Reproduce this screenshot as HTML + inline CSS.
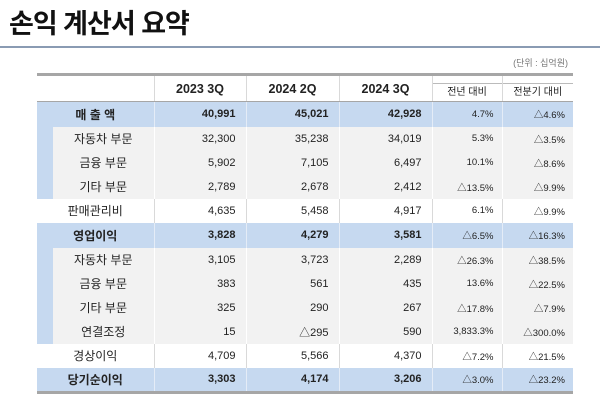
<!DOCTYPE html>
<html><head><meta charset="utf-8"><style>
body{margin:0;width:600px;height:401px;background:#fff;position:relative;overflow:hidden;font-family:"Liberation Sans","Noto Sans CJK KR",sans-serif;color:#222}
#title{position:absolute;left:9px;top:2px;font-size:27px;font-weight:bold;letter-spacing:-1px;color:#111}
#rule{position:absolute;left:0;top:46px;width:600px;height:2px;background:#8a9bb3}
#unit{position:absolute;right:32px;top:56px;font-size:9px;color:#777}
table{position:absolute;left:37px;top:73px;border-collapse:collapse;table-layout:fixed;width:536px}
td,th{padding:0;font-size:11px;border-left:1px solid #d9d9d9}
td:first-child,th:first-child{border-left:none}
thead tr{height:27px}
thead th{border-top:3px solid #a6a6a6;border-bottom:1px solid #a6a6a6;font-size:12.5px;font-weight:bold;text-align:center;vertical-align:middle}
th.sub{font-weight:normal;font-size:10px;vertical-align:bottom;padding:0}
th.sub div{border-top:1px solid #bbb;height:17px;line-height:17px;margin-top:7px}
tbody tr{height:24px}
tbody tr.main{height:25px;background:#c6d9f0;font-weight:bold}
tbody tr.main td{border-left-color:#e4ecf7}
tbody tr.subrow{background:#f2f2f2}
tbody tr.subrow td{border-left-color:#fff}
tbody tr.subrow td:first-child{background:linear-gradient(to right,#c6d9f0 16px,#f2f2f2 16px);padding-left:16px}
td.l{text-align:center;font-size:12px}
td.v{text-align:right;padding-right:10px}
td.p{text-align:right;padding-right:8px;font-size:9.5px}
tbody tr:last-child{border-bottom:3px solid #a6a6a6}
</style></head><body>
<div id="title">손익 계산서 요약</div>
<div id="rule"></div>
<div id="unit">(단위 : 십억원)</div>
<table>
<colgroup><col style="width:117px"><col style="width:92px"><col style="width:93px"><col style="width:93px"><col style="width:70px"><col style="width:71px"></colgroup>
<thead><tr>
<th></th><th>2023 3Q</th><th>2024 2Q</th><th>2024 3Q</th>
<th class="sub"><div>전년 대비</div></th><th class="sub"><div>전분기 대비</div></th></tr></thead>
<tbody>
<tr class="main"><td class="l">매 출 액</td><td class="v">40,991</td><td class="v">45,021</td><td class="v">42,928</td><td class="p" style="font-weight:normal">4.7%</td><td class="p" style="font-weight:normal">△4.6%</td></tr>
<tr class="subrow"><td class="l">자동차 부문</td><td class="v">32,300</td><td class="v">35,238</td><td class="v">34,019</td><td class="p">5.3%</td><td class="p">△3.5%</td></tr>
<tr class="subrow"><td class="l">금융 부문</td><td class="v">5,902</td><td class="v">7,105</td><td class="v">6,497</td><td class="p">10.1%</td><td class="p">△8.6%</td></tr>
<tr class="subrow"><td class="l">기타 부문</td><td class="v">2,789</td><td class="v">2,678</td><td class="v">2,412</td><td class="p">△13.5%</td><td class="p">△9.9%</td></tr>
<tr><td class="l">판매관리비</td><td class="v">4,635</td><td class="v">5,458</td><td class="v">4,917</td><td class="p">6.1%</td><td class="p">△9.9%</td></tr>
<tr class="main"><td class="l">영업이익</td><td class="v">3,828</td><td class="v">4,279</td><td class="v">3,581</td><td class="p" style="font-weight:normal">△6.5%</td><td class="p" style="font-weight:normal">△16.3%</td></tr>
<tr class="subrow"><td class="l">자동차 부문</td><td class="v">3,105</td><td class="v">3,723</td><td class="v">2,289</td><td class="p">△26.3%</td><td class="p">△38.5%</td></tr>
<tr class="subrow"><td class="l">금융 부문</td><td class="v">383</td><td class="v">561</td><td class="v">435</td><td class="p">13.6%</td><td class="p">△22.5%</td></tr>
<tr class="subrow"><td class="l">기타 부문</td><td class="v">325</td><td class="v">290</td><td class="v">267</td><td class="p">△17.8%</td><td class="p">△7.9%</td></tr>
<tr class="subrow"><td class="l">연결조정</td><td class="v">15</td><td class="v">△295</td><td class="v">590</td><td class="p">3,833.3%</td><td class="p">△300.0%</td></tr>
<tr><td class="l">경상이익</td><td class="v">4,709</td><td class="v">5,566</td><td class="v">4,370</td><td class="p">△7.2%</td><td class="p">△21.5%</td></tr>
<tr class="main"><td class="l">당기순이익</td><td class="v">3,303</td><td class="v">4,174</td><td class="v">3,206</td><td class="p" style="font-weight:normal">△3.0%</td><td class="p" style="font-weight:normal">△23.2%</td></tr>
</tbody></table>
</body></html>
